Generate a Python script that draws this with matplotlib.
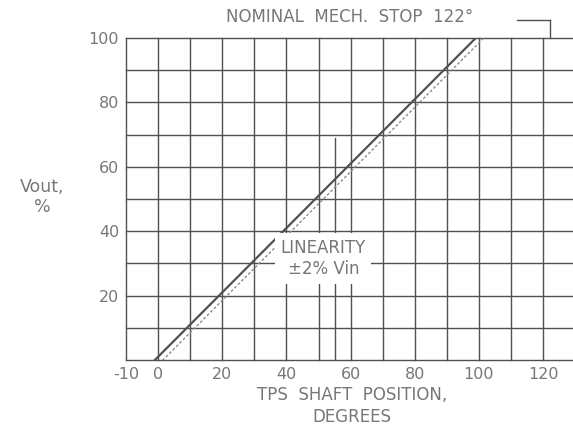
import matplotlib
matplotlib.use("Agg")
import matplotlib.pyplot as plt

# data
x_tick_labels = [-10, 0, 20, 40, 60, 80, 100, 120]
x_grid = [-10, 0, 10, 20, 30, 40, 50, 60, 70, 80, 90, 100, 110, 120]
y_tick_labels = [20, 40, 60, 80, 100]
y_grid = [0, 10, 20, 30, 40, 50, 60, 70, 80, 90, 100]
nominal_x = [-4, 104]
nominal_y = [-3, 105]
lower_x = [-4, 104]
lower_y = [-5.5, 102.5]
linearity_x = 55
linearity_top = 69
mech_stop = 122

plt.rcParams['font.family'] = ['DejaVu Sans']
txt = '#777777'
gridc = '#505050'

fig = plt.figure(figsize=(5.73, 4.34), dpi=100)
ax = fig.add_axes([126/573, 74/434, 1 - 126/573, 322/434])
ax.set_xlim(-10, 129.3)
ax.set_ylim(0, 100)
for s in ax.spines.values():
    s.set_visible(False)

for xv in x_grid:
    ax.plot([xv, xv], [0, 100], color=gridc, lw=1.0, zorder=1, clip_on=False)
for yv in y_grid:
    ax.plot([-10, 129.3], [yv, yv], color=gridc, lw=1.0, zorder=1, clip_on=False)

ax.set_xticks(x_tick_labels)
ax.set_xticklabels([str(v) for v in x_tick_labels])
ax.set_yticks(y_tick_labels)
ax.set_yticklabels([str(v) for v in y_tick_labels])
ax.tick_params(length=0, labelsize=11.5, labelcolor=txt, pad=5)

ax.plot(nominal_x, nominal_y, color='#505050', lw=1.6, zorder=3)
ax.plot(lower_x, lower_y, color='#8a8a8a', lw=1.0, ls=(0, (2, 1.5)), zorder=3)

ax.plot([linearity_x, linearity_x], [0, linearity_top], color=gridc, lw=1.0, zorder=2)

ax.text(51.5, 31.5, 'LINEARITY\n±2% Vin', ha='center', va='center', fontsize=12,
        color=txt, linespacing=1.25, zorder=5,
        bbox=dict(facecolor='white', edgecolor='none', pad=4))

fig.text(350/573, 1 - 17/434, 'NOMINAL  MECH.  STOP  122°', ha='center', va='center',
         fontsize=12, color=txt)
# bracket to mech stop
ax.plot([112, mech_stop], [105.5, 105.5], color=gridc, lw=1.0, clip_on=False)
ax.plot([mech_stop, mech_stop], [105.5, 100], color=gridc, lw=1.0, clip_on=False)

fig.text(42/573, 1 - 197/434, 'Vout,\n%', ha='center', va='center', fontsize=12.5,
         color=txt, linespacing=1.15)
fig.text(352/573, 1 - 406/434, 'TPS  SHAFT  POSITION,\nDEGREES', ha='center', va='center',
         fontsize=12, color=txt, linespacing=1.3)

fig.savefig('out.png', dpi=100)
